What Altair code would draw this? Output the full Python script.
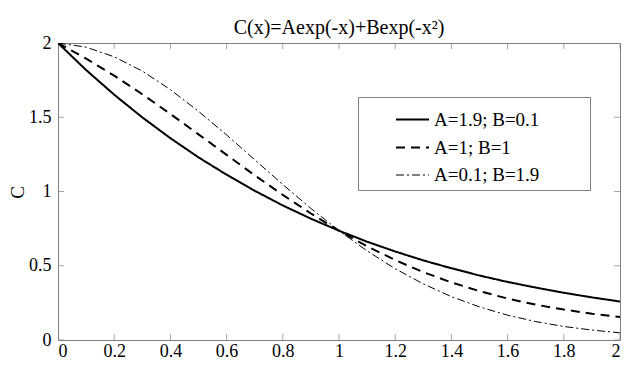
import altair as alt
import pandas as pd

# x positions and curve values
x_vals = [0.0, 0.1, 0.2, 0.3, 0.4, 0.5, 0.6, 0.7, 0.8, 0.9, 1.0,
          1.1, 1.2, 1.3, 1.4, 1.5, 1.6, 1.7, 1.8, 1.9, 2.0]
c_a19 = [2.0, 1.818, 1.652, 1.499, 1.359, 1.230, 1.113, 1.005, 0.906, 0.817, 0.736,
         0.662, 0.596, 0.536, 0.483, 0.434, 0.391, 0.353, 0.318, 0.287, 0.259]
c_a1 = [2.0, 1.895, 1.780, 1.655, 1.522, 1.385, 1.247, 1.109, 0.977, 0.852, 0.736,
        0.631, 0.538, 0.457, 0.388, 0.329, 0.279, 0.238, 0.205, 0.177, 0.154]
c_a01 = [2.0, 1.972, 1.907, 1.811, 1.686, 1.540, 1.381, 1.214, 1.047, 0.886, 0.736,
         0.600, 0.480, 0.378, 0.292, 0.223, 0.167, 0.124, 0.091, 0.067, 0.048]
series_names = ["A=1.9; B=0.1", "A=1; B=1", "A=0.1; B=1.9"]

x_ticks = [0, 0.2, 0.4, 0.6, 0.8, 1, 1.2, 1.4, 1.6, 1.8, 2]
y_ticks = [0, 0.5, 1, 1.5, 2]

rows = []
for name, ys in zip(series_names, [c_a19, c_a1, c_a01]):
    for xv, yv in zip(x_vals, ys):
        rows.append({"x": xv, "C": yv, "series": name})
df = pd.DataFrame(rows)

xt = pd.DataFrame([{"x": t, "C": e} for t in x_ticks for e in (y_ticks[0], y_ticks[-1])])
yt = pd.DataFrame([{"x": e, "C": t} for t in y_ticks for e in (x_ticks[0], x_ticks[-1])])

FONT = "Liberation Serif"
GRAY = "#808080"

xscale = alt.Scale(domain=[0, 2], nice=False, zero=False)
yscale = alt.Scale(domain=[0, 2], nice=False, zero=False)


def xenc():
    return alt.X("x:Q", scale=xscale,
                 axis=alt.Axis(values=x_ticks, format="~g", title=None,
                               labelFont=FONT, labelFontSize=18))


def yenc():
    return alt.Y("C:Q", scale=yscale,
                 axis=alt.Axis(values=y_ticks, format="~g", title="C",
                               labelFont=FONT, labelFontSize=18,
                               titleFont=FONT, titleFontSize=19,
                               titleX=-41, titleY=149, titleAngle=270,
                               titleAlign="center", titleBaseline="middle"))


lines = alt.Chart(df).mark_line(color="black", clip=True).encode(
    x=xenc(),
    y=yenc(),
    strokeDash=alt.StrokeDash(
        "series:N",
        scale=alt.Scale(domain=series_names, range=[[1, 0], [9, 6], [8, 3, 2, 3]]),
        legend=alt.Legend(title="\u00a0", titleOrient="right", titlePadding=46,
                          orient="none", legendX=300, legendY=54,
                          symbolType="stroke", symbolSize=1089,
                          symbolStrokeColor="black", labelFont=FONT,
                          labelFontSize=19, labelColor="black",
                          titleFont=FONT, titleFontSize=19,
                          strokeColor=GRAY, fillColor="white", padding=5,
                          symbolOffset=32, labelOffset=4, rowPadding=0)),
    strokeWidth=alt.StrokeWidth(
        "series:O",
        scale=alt.Scale(type="ordinal", domain=series_names, range=[2, 2, 1]),
        legend=None),
)

xticks_marks = alt.Chart(xt).mark_tick(color=GRAY, size=12, thickness=1,
                                       orient="vertical", clip=True).encode(
    x=xenc(), y=yenc())
yticks_marks = alt.Chart(yt).mark_tick(color=GRAY, size=12, thickness=1,
                                       orient="horizontal", clip=True).encode(
    x=xenc(), y=yenc())

chart = alt.layer(xticks_marks, yticks_marks, lines).properties(
    width=562, height=297,
    autosize=alt.AutoSizeParams(type="none"),
    padding={"left": 50, "top": 35, "right": 2, "bottom": 23},
    title=alt.TitleParams("C(x)=Aexp(-x)+Bexp(-x²)", font=FONT, fontSize=20,
                          fontWeight="normal", color="black", offset=0, dy=4,
                          frame="group"),
).configure(
    font=FONT
).configure_view(
    stroke=GRAY, strokeWidth=1
).configure_axis(
    domain=False, ticks=False, grid=False, labelFont=FONT, labelFontSize=18,
    labelColor="black", titleFont=FONT, titleFontSize=19, titleColor="black",
    titleFontWeight="normal"
).configure_axisX(labelPadding=2).configure_axisY(labelPadding=7)

chart.save("out.html", embed_options={"renderer": "svg", "actions": False})
